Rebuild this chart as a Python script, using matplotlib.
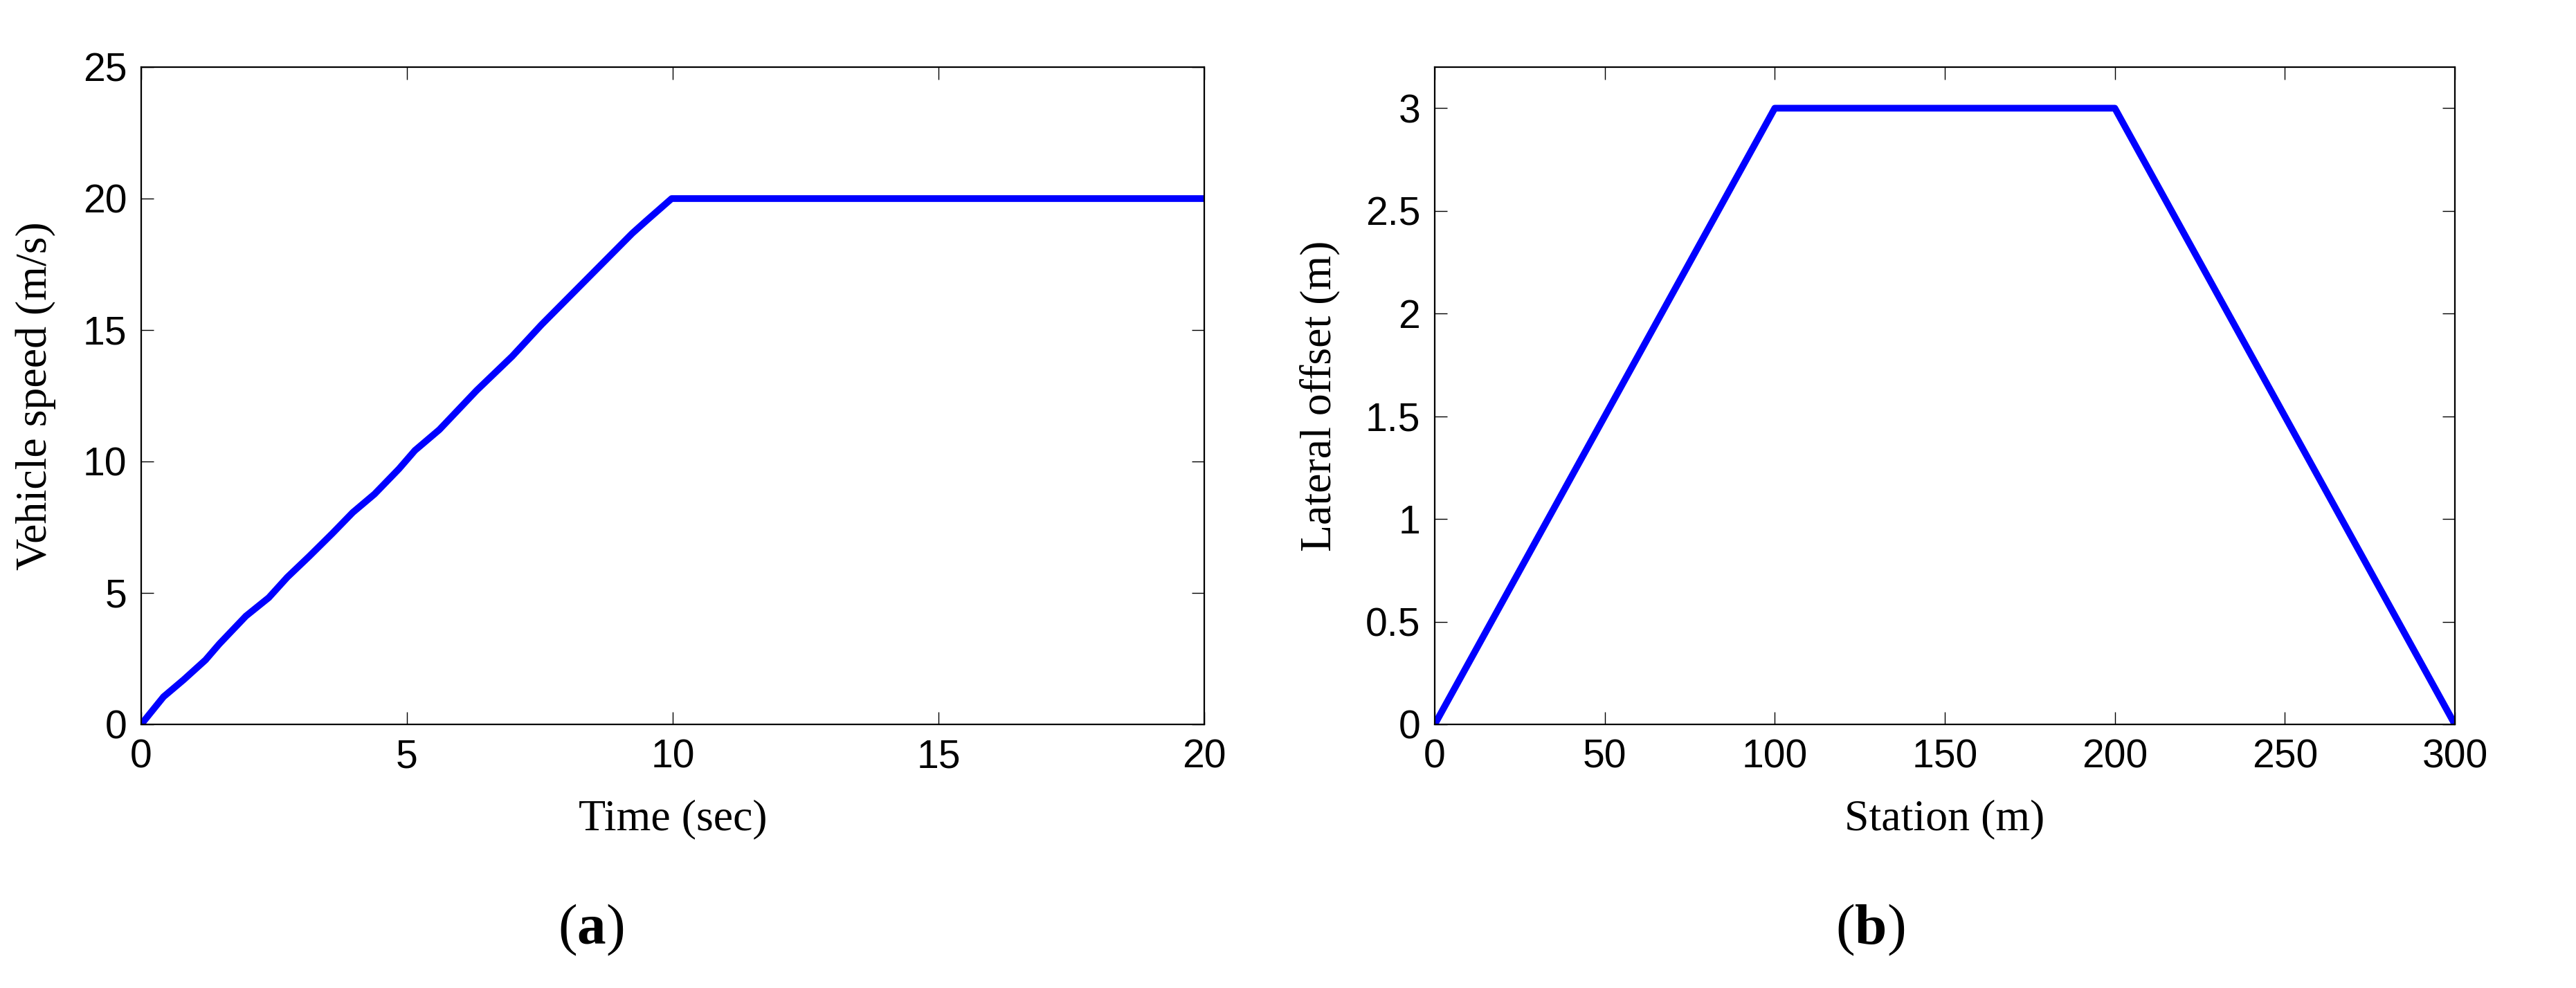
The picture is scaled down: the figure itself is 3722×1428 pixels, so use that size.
import matplotlib
matplotlib.use("Agg")
import matplotlib.pyplot as plt

# vehicle speed profile
time_s = [0, 0.42, 0.80, 1.21, 1.47, 1.97, 2.40, 2.75, 3.16, 3.60, 3.98, 4.39,
          4.85, 5.15, 5.61, 6.31, 6.98, 7.53, 9.24, 9.50, 9.98, 20]
speed = [0, 1.05, 1.70, 2.45, 3.06, 4.12, 4.82, 5.60, 6.39, 7.27, 8.06, 8.76,
         9.72, 10.42, 11.21, 12.70, 14.0, 15.2, 18.68, 19.15, 20, 20]

# lateral offset vs station
station = [0, 100, 200, 300]
offset = [0, 3, 3, 0]

plt.rcParams['mathtext.fontset'] = 'custom'
plt.rcParams['mathtext.rm'] = 'Liberation Serif'
plt.rcParams['mathtext.bf'] = 'Liberation Serif:bold'

W, H = 3723, 1428
fig = plt.figure(figsize=(W / 100, H / 100), dpi=100)

label_font = dict(family='Liberation Serif', size=46)


def style(ax):
    for s in ax.spines.values():
        s.set_linewidth(1.6)
    ax.tick_params(direction='in', length=13, width=1.0, top=True, right=True,
                   pad=15)
    for lab in ax.get_xticklabels() + ax.get_yticklabels():
        lab.set_fontfamily('Liberation Sans')
        lab.set_fontsize(41)


ax1 = fig.add_axes([204 / W, 1 - 1047 / H, 1536 / W, 950 / H])
ax1.plot(time_s, speed, color='#0000ff', lw=7, solid_joinstyle='round')
ax1.set_xlim(0, 20)
ax1.set_ylim(0, 25)
ax1.set_xticks([0, 5, 10, 15, 20])
ax1.set_yticks([0, 5, 10, 15, 20, 25])
style(ax1)
ax1.set_xlabel('Time (sec)', fontdict=label_font, labelpad=24)
ax1.set_ylabel('Vehicle speed (m/s)', fontdict=label_font, labelpad=28)

ax2 = fig.add_axes([2073 / W, 1 - 1047 / H, 1474 / W, 950 / H])
ax2.plot(station, offset, color='#0000ff', lw=7, solid_joinstyle='round')
ax2.set_xlim(0, 300)
ax2.set_ylim(0, 3.2)
ax2.set_xticks([0, 50, 100, 150, 200, 250, 300])
ax2.set_yticks([0, 0.5, 1, 1.5, 2, 2.5, 3])
ax2.set_yticklabels(['0', '0.5', '1', '1.5', '2', '2.5', '3'])
style(ax2)
ax2.set_xlabel('Station (m)', fontdict=label_font, labelpad=24)
ax2.set_ylabel('Lateral offset (m)', fontdict=label_font, labelpad=26)

fig.text(854 / W, 1 - 1344 / H, r'($\mathbf{a}$)', family='Liberation Serif',
         size=60, ha='center', va='center')
fig.text(2702 / W, 1 - 1344 / H, r'($\mathbf{b}$)', family='Liberation Serif',
         size=60, ha='center', va='center')

fig.savefig('out.png', dpi=100, facecolor='white')
